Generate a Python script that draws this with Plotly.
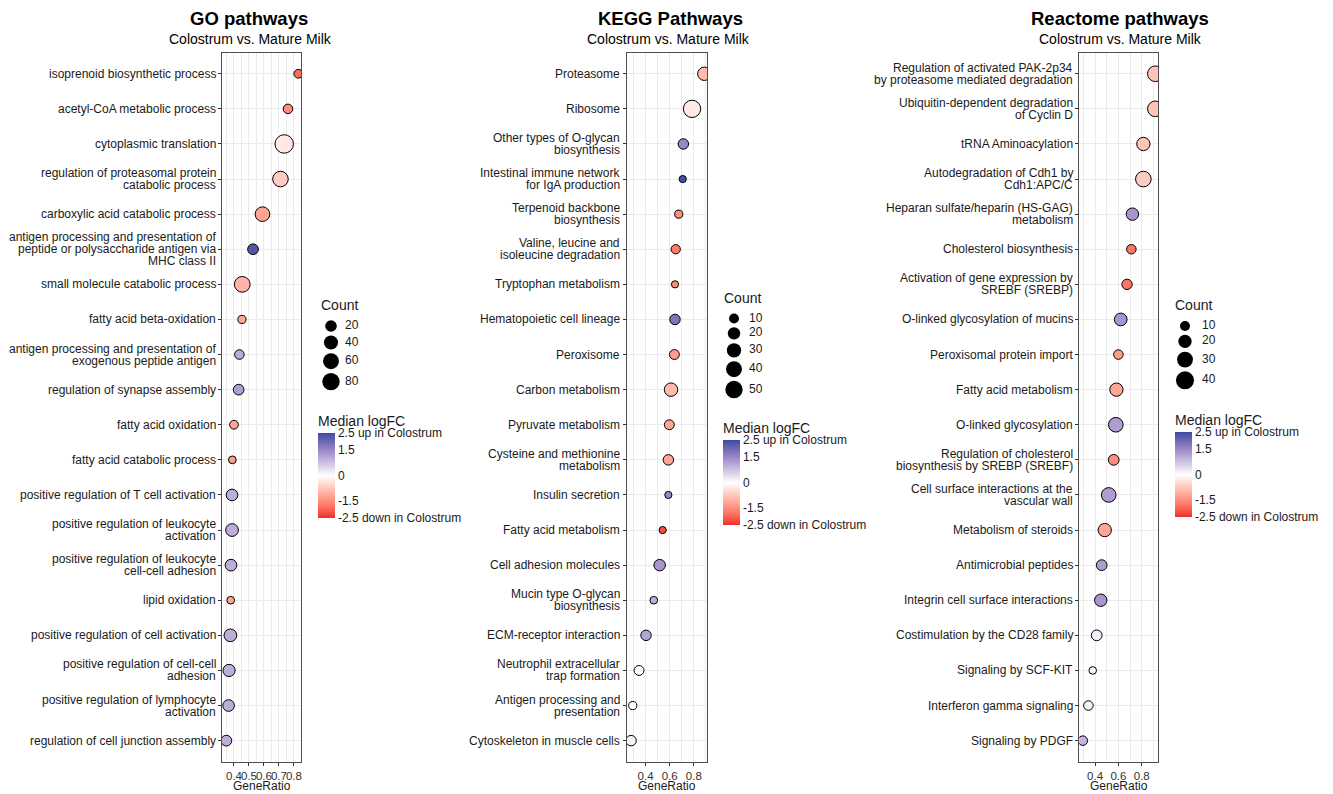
import numpy as np
import plotly.graph_objects as go

W, H = 1333, 794
FONT = "Liberation Sans, Arial, Helvetica, sans-serif"
TXT = "#1a1a1a"
GRID = "#EBEBEB"
BORDER = "#4d4d4d"

# ---------------- GO pathways ----------------
go_terms = [
    "isoprenoid biosynthetic process",
    "acetyl-CoA metabolic process",
    "cytoplasmic translation",
    "regulation of proteasomal protein<br>catabolic process",
    "carboxylic acid catabolic process",
    "antigen processing and presentation of<br>peptide or polysaccharide antigen via<br>MHC class II",
    "small molecule catabolic process",
    "fatty acid beta-oxidation",
    "antigen processing and presentation of<br>exogenous peptide antigen",
    "regulation of synapse assembly",
    "fatty acid oxidation",
    "fatty acid catabolic process",
    "positive regulation of T cell activation",
    "positive regulation of leukocyte<br>activation",
    "positive regulation of leukocyte<br>cell-cell adhesion",
    "lipid oxidation",
    "positive regulation of cell activation",
    "positive regulation of cell-cell<br>adhesion",
    "positive regulation of lymphocyte<br>activation",
    "regulation of cell junction assembly",
]
go_ratio = [0.829, 0.760, 0.735, 0.710, 0.590, 0.527, 0.455, 0.453, 0.436, 0.431,
            0.400, 0.389, 0.387, 0.387, 0.380, 0.378, 0.376, 0.367, 0.364, 0.349]
go_count = [5, 8, 95, 56, 46, 14, 58, 3, 8, 14,
            5, 2, 20, 28, 20, 2, 28, 24, 20, 14]
go_logfc = [-1.9, -1.5, -0.3, -0.7, -1.2, 2.3, -1.0, -1.2, 1.0, 1.2,
            -1.2, -1.3, 1.0, 1.0, 1.0, -1.2, 1.0, 1.0, 1.0, 1.0]
go_size_breaks = [20, 40, 60, 80]

# ---------------- KEGG pathways ----------------
kegg_terms = [
    "Proteasome",
    "Ribosome",
    "Other types of O-glycan<br>biosynthesis",
    "Intestinal immune network<br>for IgA production",
    "Terpenoid backbone<br>biosynthesis",
    "Valine, leucine and<br>isoleucine degradation",
    "Tryptophan metabolism",
    "Hematopoietic cell lineage",
    "Peroxisome",
    "Carbon metabolism",
    "Pyruvate metabolism",
    "Cysteine and methionine<br>metabolism",
    "Insulin secretion",
    "Fatty acid metabolism",
    "Cell adhesion molecules",
    "Mucin type O-glycan<br>biosynthesis",
    "ECM-receptor interaction",
    "Neutrophil extracellular<br>trap formation",
    "Antigen processing and<br>presentation",
    "Cytoskeleton in muscle cells",
]
kegg_ratio = [0.887, 0.785, 0.713, 0.708, 0.675, 0.650, 0.644, 0.644, 0.639, 0.611,
              0.597, 0.589, 0.589, 0.542, 0.517, 0.468, 0.404, 0.346, 0.294, 0.280]
kegg_count = [25, 50, 12, 3, 5, 8, 3, 12, 10, 25,
              10, 12, 3, 3, 16, 4, 12, 10, 5, 12]
kegg_logfc = [-0.9, -0.3, 1.5, 2.4, -1.5, -1.7, -1.5, 1.8, -1.3, -0.9,
              -1.2, -1.2, 1.5, -2.2, 1.3, 1.0, 1.1, 0.0, 0.0, 0.15]
kegg_size_breaks = [10, 20, 30, 40, 50]

# ---------------- Reactome pathways ----------------
react_terms = [
    "Regulation of activated PAK-2p34<br>by proteasome mediated degradation",
    "Ubiquitin-dependent degradation<br>of Cyclin D",
    "tRNA Aminoacylation",
    "Autodegradation of Cdh1 by<br>Cdh1:APC/C",
    "Heparan sulfate/heparin (HS-GAG)<br>metabolism",
    "Cholesterol biosynthesis",
    "Activation of gene expression by<br>SREBF (SREBP)",
    "O-linked glycosylation of mucins",
    "Peroxisomal protein import",
    "Fatty acid metabolism",
    "O-linked glycosylation",
    "Regulation of cholesterol<br>biosynthesis by SREBP (SREBF)",
    "Cell surface interactions at the<br>vascular wall",
    "Metabolism of steroids",
    "Antimicrobial peptides",
    "Integrin cell surface interactions",
    "Costimulation by the CD28 family",
    "Signaling by SCF-KIT",
    "Interferon gamma signaling",
    "Signaling by PDGF",
]
react_ratio = [0.917, 0.917, 0.814, 0.814, 0.720, 0.711, 0.674, 0.620, 0.600, 0.583,
               0.578, 0.560, 0.517, 0.483, 0.457, 0.449, 0.414, 0.380, 0.343, 0.295]
react_count = [29, 29, 20, 29, 17, 9, 11, 18, 9, 20,
               25, 12, 25, 20, 12, 17, 12, 5, 9, 9]
react_logfc = [-0.8, -0.8, -0.8, -0.7, 1.3, -1.8, -1.8, 1.3, -1.3, -1.2,
               1.2, -1.5, 1.2, -1.2, 1.2, 1.3, 0.2, 0.1, 0.15, 0.9]
react_size_breaks = [10, 20, 30, 40]

cbar_vals = [2.5, 1.5, 0, -1.5, -2.5]
cbar_text = ["2.5 up in Colostrum", "1.5", "0", "-1.5", "-2.5 down in Colostrum"]

# ---------------- diverging colour scale, interpolated in CIE Lab ----------------
CMIN, CMAX = -2.5, 2.5
COLOR_STOPS = [(-2.5, "#EE2C2C"), (0.0, "#FFFFFF"), (1.5, "#9A86C6"), (2.5, "#3B4CA0")]
_M = np.array([[0.4124564, 0.3575761, 0.1804375],
               [0.2126729, 0.7151522, 0.0721750],
               [0.0193339, 0.1191920, 0.9503041]])
_WP = np.array([0.95047, 1.0, 1.08883])


def _hex2rgb(h):
    h = h.lstrip("#")
    return np.array([int(h[i:i + 2], 16) for i in (0, 2, 4)], float)


def _rgb2lab(rgb):
    c = rgb / 255.0
    c = np.where(c <= 0.04045, c / 12.92, ((c + 0.055) / 1.055) ** 2.4)
    xyz = _M @ c / _WP
    f = np.where(xyz > 216 / 24389, np.cbrt(xyz), (24389 / 27 * xyz + 16) / 116)
    return np.array([116 * f[1] - 16, 500 * (f[0] - f[1]), 200 * (f[1] - f[2])])


def _lab2rgb(lab):
    fy = (lab[0] + 16) / 116
    fx = fy + lab[1] / 500
    fz = fy - lab[2] / 200
    f = np.array([fx, fy, fz])
    xyz = np.where(f ** 3 > 216 / 24389, f ** 3, (116 * f - 16) / (24389 / 27)) * _WP
    lin = np.clip(np.linalg.solve(_M, xyz), 0, 1)
    s = np.where(lin <= 0.0031308, 12.92 * lin, 1.055 * lin ** (1 / 2.4) - 0.055)
    r, g, b = np.clip(np.round(s * 255), 0, 255).astype(int)
    return f"rgb({r},{g},{b})"


def lab_scale(stops, n=51):
    vals = [v for v, _ in stops]
    labs = [_rgb2lab(_hex2rgb(c)) for _, c in stops]
    out = []
    for v in np.linspace(CMIN, CMAX, n):
        k = min(max(np.searchsorted(vals, v) - 1, 0), len(vals) - 2)
        t = (v - vals[k]) / (vals[k + 1] - vals[k])
        lab = labs[k] + (labs[k + 1] - labs[k]) * t
        out.append([float((v - CMIN) / (CMAX - CMIN)), _lab2rgb(lab)])
    return out


CSCALE = lab_scale(COLOR_STOPS)

# ---------------- panel geometry (pixels) ----------------
Y_TOP, Y_BOT = 52.7, 761.7
LINE_GAP = 12.0          # spacing between lines of a wrapped term label
CB_TITLE = 21            # room taken by the colour bar title
panels = [
    dict(terms=go_terms, ratio=go_ratio, count=go_count, logfc=go_logfc,
         breaks=go_size_breaks, px=(222.0, 301.3), xr=(0.32, 0.849), dtick=0.1,
         size_ab=(5.9, 1.29), title="GO pathways", title_x=249, sub_x=250,
         leg_x=331, leg_lab_x=345, leg_title_y=305, leg_y0=326,
         cb_x=318, cb_top=433),
    dict(terms=kegg_terms, ratio=kegg_ratio, count=kegg_count, logfc=kegg_logfc,
         breaks=kegg_size_breaks, px=(626.7, 707.3), xr=(0.244, 0.9115), dtick=0.2,
         size_ab=(3.9, 1.9), title="KEGG Pathways", title_x=670, sub_x=668,
         leg_x=734, leg_lab_x=749, leg_title_y=298, leg_y0=318.5,
         cb_x=723, cb_top=440),
    dict(terms=react_terms, ratio=react_ratio, count=react_count, logfc=react_logfc,
         breaks=react_size_breaks, px=(1079.3, 1158.3), xr=(0.265, 0.942), dtick=0.2,
         size_ab=(1.9, 2.55), title="Reactome pathways", title_x=1120, sub_x=1120,
         leg_x=1185, leg_lab_x=1202, leg_title_y=305, leg_y0=326,
         cb_x=1175, cb_top=432),
]


def diam(counts, ab):
    a, b = ab
    return [a + b * np.sqrt(c) for c in counts]


fig = go.Figure()
annotations = []
layout = dict(
    width=W, height=H, margin=dict(l=0, r=0, t=0, b=0),
    paper_bgcolor="white", plot_bgcolor="rgba(0,0,0,0)",
    font=dict(family=FONT, size=12, color=TXT),
    showlegend=False,
)

for i, p in enumerate(panels, start=1):
    sfx = "" if i == 1 else str(i)
    n = len(p["terms"])
    ypos = list(range(n))
    fig.add_trace(go.Scatter(
        x=p["ratio"], y=ypos, mode="markers",
        xaxis="x" + sfx, yaxis="y" + sfx,
        marker=dict(size=diam(p["count"], p["size_ab"]), color=p["logfc"],
                    coloraxis="coloraxis" + sfx, opacity=1,
                    line=dict(color="#000000", width=1)),
        hoverinfo="skip",
    ))
    x0, x1 = p["px"]
    layout["xaxis" + sfx] = dict(
        domain=[x0 / W, x1 / W], range=list(p["xr"]), anchor="y" + sfx,
        tickmode="linear", tick0=0, dtick=p["dtick"], tickformat=".1f", tickangle=0,
        ticks="outside", ticklen=3, tickcolor="#333333", tickwidth=1,
        tickfont=dict(size=11.5, color="#333333"),
        showgrid=True, gridcolor=GRID, gridwidth=1, zeroline=False,
        minor=dict(dtick=p["dtick"] / 2, showgrid=True, gridcolor=GRID, gridwidth=1, ticks=""),
        showline=True, mirror=True, linecolor=BORDER, linewidth=1,
    )
    layout["yaxis" + sfx] = dict(
        domain=[1 - Y_BOT / H, 1 - Y_TOP / H], range=[n - 0.4, -0.6], anchor="x" + sfx,
        tickmode="array", tickvals=ypos, showticklabels=False,
        ticks="outside", ticklen=3, tickcolor="#333333", tickwidth=1,
        showgrid=True, gridcolor=GRID, gridwidth=1, zeroline=False,
        showline=True, mirror=True, linecolor=BORDER, linewidth=1,
    )
    # term labels, one annotation per wrapped line so the line spacing stays tight
    for k, term in enumerate(p["terms"]):
        lines = term.split("<br>")
        m = len(lines)
        for j, ln in enumerate(lines):
            annotations.append(dict(
                text=ln, x=(x0 - 4.5) / W, xref="paper", y=k, yref="y" + sfx,
                yshift=((m - 1) / 2 - j) * LINE_GAP, showarrow=False,
                xanchor="right", yanchor="middle", font=dict(size=12, color=TXT)))
    layout["coloraxis" + sfx] = dict(
        cmin=CMIN, cmax=CMAX, colorscale=CSCALE,
        colorbar=dict(
            title=dict(text="Median logFC", side="top", font=dict(size=14, color=TXT)),
            x=p["cb_x"] / W, xanchor="left", y=1 - (p["cb_top"] - CB_TITLE) / H, yanchor="top",
            len=85 + CB_TITLE, lenmode="pixels", thickness=17, thicknessmode="pixels",
            xpad=0, ypad=0, outlinewidth=0, ticks="",
            tickmode="array", tickvals=cbar_vals, ticktext=cbar_text,
            tickfont=dict(size=12, color=TXT),
        ),
    )
    # panel titles
    annotations.append(dict(text="<b>%s</b>" % p["title"], x=p["title_x"] / W, y=1 - 18 / H,
                            xref="paper", yref="paper", showarrow=False,
                            xanchor="center", yanchor="middle", font=dict(size=18.5, color="#000000")))
    annotations.append(dict(text="Colostrum vs. Mature Milk", x=p["sub_x"] / W, y=1 - 39 / H,
                            xref="paper", yref="paper", showarrow=False,
                            xanchor="center", yanchor="middle", font=dict(size=14, color="#000000")))
    annotations.append(dict(text="GeneRatio", x=(x0 + x1) / 2 / W, y=1 - 786 / H,
                            xref="paper", yref="paper", showarrow=False,
                            xanchor="center", yanchor="middle", font=dict(size=12, color=TXT)))
    # size guide ("Count")
    annotations.append(dict(text="Count", x=(p["leg_x"] - 12) / W, y=1 - p["leg_title_y"] / H,
                            xref="paper", yref="paper", showarrow=False,
                            xanchor="left", yanchor="middle", font=dict(size=14, color=TXT)))
    d = diam(p["breaks"], p["size_ab"])
    ys = [p["leg_y0"]]
    for k in range(1, len(d)):
        ys.append(ys[-1] + (d[k - 1] + d[k]) / 2 + 3.7)
    fig.add_trace(go.Scatter(
        x=[p["leg_x"]] * len(d), y=ys, mode="markers", xaxis="x4", yaxis="y4",
        marker=dict(size=d, color="#000000", opacity=1, line=dict(width=0)),
        hoverinfo="skip",
    ))
    fig.add_trace(go.Scatter(
        x=[p["leg_lab_x"]] * len(d), y=ys, mode="text", xaxis="x4", yaxis="y4",
        text=[str(b) for b in p["breaks"]], textposition="middle right",
        textfont=dict(size=12, color=TXT), hoverinfo="skip",
    ))

# pixel-space overlay used for the size guides
layout["xaxis4"] = dict(domain=[0, 1], range=[0, W], anchor="y4", visible=False, fixedrange=True)
layout["yaxis4"] = dict(domain=[0, 1], range=[H, 0], anchor="x4", visible=False, fixedrange=True)
layout["annotations"] = annotations

fig.update_layout(**layout)
fig.write_html("out.html")
